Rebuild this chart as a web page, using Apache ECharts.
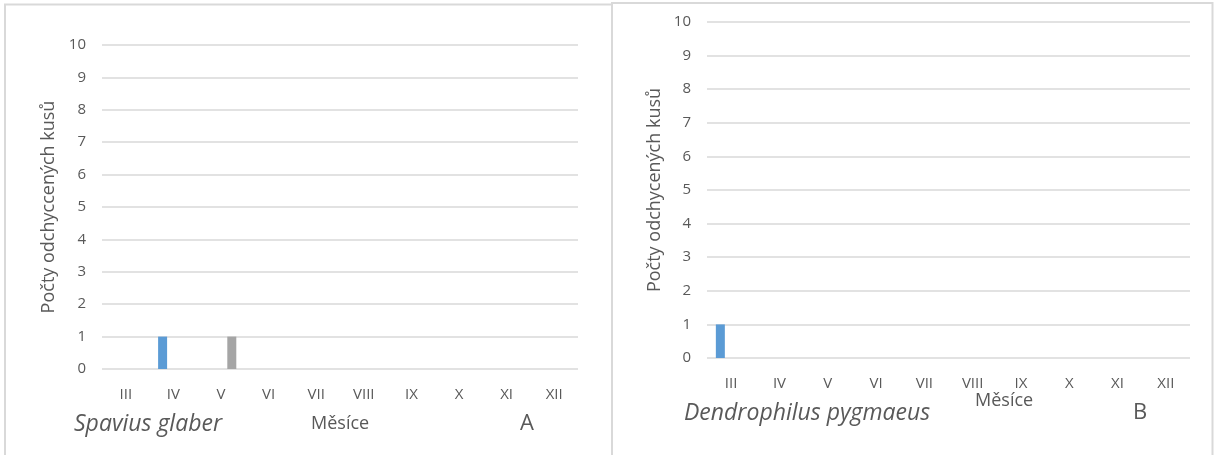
<!DOCTYPE html>
<html>
<head>
<meta charset="utf-8">
<script src="https://cdn.jsdelivr.net/npm/echarts@6/dist/echarts.min.js"></script>
<style>
html,body{margin:0;padding:0;background:#fff;}
#chart{width:1220px;height:455px;}
</style>
</head>
<body>
<div id="chart"></div>
<script>
// ---- data ----
const months = ['III','IV','V','VI','VII','VIII','IX','X','XI','XII'];
const yTicks = [0,1,2,3,4,5,6,7,8,9,10];
// Panel A: Spavius glaber
const aSeries1 = [0,1,0,0,0,0,0,0,0,0];
const aSeries2 = [0,0,0,0,0,0,0,0,0,0];
const aSeries3 = [0,0,1,0,0,0,0,0,0,0];
// Panel B: Dendrophilus pygmaeus
const bSeries1 = [1,0,0,0,0,0,0,0,0,0];
const bSeries2 = [0,0,0,0,0,0,0,0,0,0];
const bSeries3 = [0,0,0,0,0,0,0,0,0,0];
const seriesNames = ['1','2','3'];
const seriesColors = ['#5B9BD5','#ED7D31','#A5A5A5'];
const yTitleA = 'Počty odchyccených kusů';
const yTitleB = 'Počty odchycených kusů';
const xTitle = 'Měsíce';
const speciesA = 'Spavius glaber';
const speciesB = 'Dendrophilus pygmaeus';

// ---- chart ----
const FONT = 'Open Sans';
const TXT = '#595959';
const GRID = '#d9d9d9';
const chart = echarts.init(document.getElementById('chart'), null, {renderer:'canvas'});

function xAxis(idx){
  return {
    type:'category', gridIndex:idx, data:months,
    axisLine:{show:false}, axisTick:{show:false},
    axisLabel:{color:TXT, fontFamily:FONT, fontSize:15, margin:18}
  };
}
function yAxis(idx, name, gap){
  return {
    type:'value', gridIndex:idx, min:yTicks[0], max:yTicks[yTicks.length-1], interval:1,
    axisLine:{show:false}, axisTick:{show:false},
    axisLabel:{color:TXT, fontFamily:FONT, fontSize:15, margin:16},
    splitLine:{lineStyle:{color:GRID, width:1.5}},
    name:name, nameLocation:'middle', nameGap:gap,
    nameTextStyle:{color:TXT, fontFamily:FONT, fontSize:18}
  };
}
function bars(idx, arrs){
  return arrs.map((d,i)=>({
    type:'bar', name:seriesNames[i], xAxisIndex:idx, yAxisIndex:idx,
    data:d, barWidth:9, barGap:'20%',
    itemStyle:{color:seriesColors[i]}, silent:true
  }));
}

chart.setOption({
  backgroundColor:'#fff',
  animation:false,
  grid:[
    {left:102, top:45, width:476, height:324},
    {left:707, top:22, width:483, height:336}
  ],
  xAxis:[xAxis(0), xAxis(1)],
  yAxis:[yAxis(0, yTitleA, 44), yAxis(1, yTitleB, 43)],
  series:[...bars(0,[aSeries1,aSeries2,aSeries3]), ...bars(1,[bSeries1,bSeries2,bSeries3])],
  graphic:[
    {type:'rect', shape:{x:5, y:4.5, width:607, height:470}, style:{fill:'none', stroke:GRID, lineWidth:2}, silent:true},
    {type:'rect', shape:{x:612, y:3, width:600.5, height:470}, style:{fill:'none', stroke:GRID, lineWidth:2}, silent:true},
    {type:'text', left:74, top:413, style:{text:speciesA, font:'italic 23px "'+FONT+'"', fill:TXT}},
    {type:'text', left:311, top:415, style:{text:xTitle, font:'18px "'+FONT+'"', fill:TXT}},
    {type:'text', left:520, top:413, style:{text:'A', font:'22px "'+FONT+'"', fill:TXT}},
    {type:'text', left:684, top:402, style:{text:speciesB, font:'italic 23px "'+FONT+'"', fill:TXT}},
    {type:'text', left:975, top:392, style:{text:xTitle, font:'18px "'+FONT+'"', fill:TXT}},
    {type:'text', left:1133, top:402, style:{text:'B', font:'22px "'+FONT+'"', fill:TXT}}
  ]
});
</script>
</body>
</html>
